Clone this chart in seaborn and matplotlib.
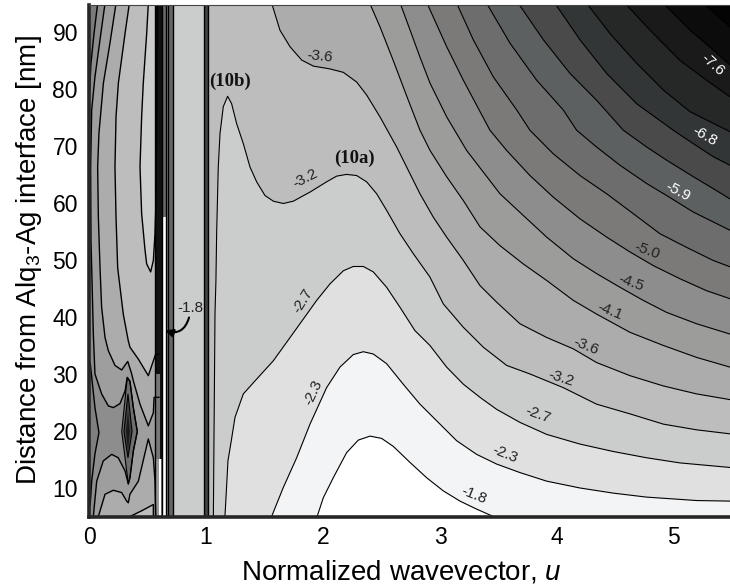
import numpy as np
import matplotlib
matplotlib.use("Agg")
import matplotlib.pyplot as plt
import seaborn as sns

# --- iso-lines of log power: (u, distance in nm) ---
UMAX, DMIN, DMAX = 5.479, 5.0, 94.8

c18_u = [1.95,2.003,2.088,2.202,2.302,2.402,2.501,2.601,2.743,2.886,3.028,3.171,3.313,3.456]
c18_d = [5,8.3,11.8,16.2,18.4,19.1,18.7,17.3,14.5,11.8,9.5,7.7,6.3,5]
c23_u = [1.561,1.661,1.775,1.889,2.031,2.145,2.259,2.345,2.43,2.544,2.686,2.829,2.971,3.142,3.313,3.484,3.684,3.912,4.197,4.481,4.766,5.194,5.479]
c23_d = [5,10.1,15.3,21.2,27.6,31.2,33.4,33.9,33.5,31.8,28.2,24.7,21.8,18.3,15.9,14.2,12.7,11.2,10.0,9.1,8.4,7.8,7.7]
c27_u = [1.162,1.171,1.188,1.214,1.248,1.319,1.433,1.575,1.761,1.946,2.06,2.174,2.259,2.345,2.43,2.544,2.658,2.786,2.914,3.057,3.2,3.342,3.484,3.684,3.912,4.197,4.481,4.766,5.051,5.479]
c27_d = [5,8.3,14.8,18,22.4,26.5,29.1,32.3,37.6,42.9,45.8,48.1,48.85,48.85,47.9,45.2,41.7,37.6,35,31.2,28.2,25.9,23.8,21.5,19.4,17.7,16.4,15.3,14.4,13.6]
c32_u = [1.063,1.077,1.085,1.091,1.105,1.12,1.148,1.185,1.219,1.262,1.319,1.376,1.433,1.504,1.576,1.661,1.746,1.889,2.031,2.117,2.202,2.288,2.373,2.459,2.544,2.658,2.772,2.914,3.028,3.199,3.37,3.57,3.769,4.054,4.339,4.624,4.909,5.194,5.479]
c32_d = [5,40.6,46.4,54.6,66.3,72.2,76.9,78.7,77.4,73.9,70.4,66.3,63.7,61.3,60.3,59.9,60.3,61.9,63.7,64.7,65,64.8,63.7,61.6,58.7,54.6,51.1,47,42.3,38.2,34.7,31.5,30,27.6,24.7,23,21.2,20.2,19.5]
c36_u = [1.562,1.632,1.718,1.818,1.917,2.06,2.174,2.288,2.374,2.487,2.63,2.715,2.829,2.943,3.057,3.2,3.342,3.484,3.684,3.912,4.14,4.339,4.624,4.909,5.194,5.479]
c36_d = [95,90.3,87.4,85.05,84,83.5,82.9,81.2,78.9,75.1,69.8,66.3,61.6,57.5,54,49.9,45.5,42.6,38.8,36.4,34.4,32,29.7,27.9,26.5,25.5]
c41_u = [2.40,2.487,2.6,2.72,2.829,2.915,3.057,3.2,3.342,3.513,3.712,3.912,4.14,4.339,4.624,4.909,5.194,5.479]
c41_d = [95,90.9,85,78.5,72.75,69.2,64.6,60.4,55.8,52.5,49.3,46.4,42.9,40.5,37.3,35,32.9,31.2]
c45_u = [2.66,2.75,2.83,2.915,3.057,3.228,3.513,3.712,3.912,4.14,4.339,4.539,4.738,4.937,5.194,5.479]
c45_d = [95,90,85.5,81,75.1,69.2,61.6,57.8,54,50.2,47.6,45.2,42.9,40.8,38.8,37]
c50_u = [2.89,3.057,3.2,3.427,3.57,3.769,3.969,4.197,4.425,4.624,4.824,5.051,5.279,5.479]
c50_d = [95,87.4,81.5,72.75,69.2,64.8,61,57.2,54,51.4,49,46.7,44.6,43.2]
c54_u = [3.143,3.285,3.456,3.656,3.769,3.969,4.197,4.425,4.653,4.88,5.108,5.336,5.479]
c54_d = [95,88.6,82.1,76.3,72.75,68.6,64.8,61.6,58.1,54.6,52.2,49.9,48.8]
c59_u = [3.399,3.599,3.827,4.054,4.168,4.339,4.539,4.767,4.937,5.165,5.479]
c59_d = [95,88,81.5,76.3,72.75,69.8,66.6,63.4,61.3,58.4,55.2]
c63_u = [3.67,3.884,4.112,4.339,4.567,4.767,4.937,5.165,5.336,5.479]
c63_d = [95,88.6,82.7,78,72.75,69.8,67.5,64.6,62.5,60.7]
c68_u = [3.983,4.197,4.425,4.681,4.994,5.165,5.336,5.479]
c68_d = [95,88.6,82.7,77.4,72.75,70.4,68.1,66.6]
c72_u = [4.254,4.453,4.681,4.909,5.137,5.479]
c72_d = [95,89.7,84.5,79.8,76,72.5]
c76_u = [4.582,4.795,5.051,5.28,5.479]
c76_d = [95,90.3,85,81.5,78.6]
c80_u = [4.909,5.137,5.336,5.479]
c80_d = [95,90.3,86.8,84.2]
c84_u = [5.251,5.479]
c84_d = [95,90.9]

right_levels = [
    (c84_u,c84_d,"#0c0c0c"),(c80_u,c80_d,"#1a1a1a"),(c76_u,c76_d,"#262828"),
    (c72_u,c72_d,"#333636"),(c68_u,c68_d,"#4a4a4a"),(c63_u,c63_d,"#5c6060"),
    (c59_u,c59_d,"#6d6d6d"),(c54_u,c54_d,"#7b7a78"),(c50_u,c50_d,"#8d8d8d"),
    (c45_u,c45_d,"#9c9c9a"),(c41_u,c41_d,"#acacac"),(c36_u,c36_d,"#bdbdbd"),
    (c32_u,c32_d,"#cbcdcc"),(c27_u,c27_d,"#e0e0e0"),(c23_u,c23_d,"#f3f4f6"),
    (c18_u,c18_d,"#ffffff"),
]

# left-hand region
l1_u = [0.074,0.043,0.017,0.0]
l1_d = [95,89.7,84.5,78]
l2_u = [0.137,0.094,0.051,0.023,0.014,0.017,0.028,0.037,0.051,0.108,0.165,0.208,0.265,0.308,0.327,0.35,0.379,0.413,0.379,0.35,0.336,0.308,0.25,0.194,0.122,0.066,0.037]
l2_d = [95,88.6,82.1,76.3,66.3,53.4,44.6,37.1,30,26.5,24.4,24.1,24.8,27,29.4,28.7,24.1,19.9,16.5,11.8,10.7,13,15.3,15.9,14.75,11.2,5]
l3_u = [0.231,0.179,0.123,0.085,0.074,0.08,0.094,0.108,0.137,0.165,0.222,0.279,0.331,0.365,0.379,0.436,0.507,0.55,0.556,0.6]
l3_d = [95,88,81,72.2,66.3,57.5,48.7,41.7,36.4,34.1,31.5,30.7,32.2,30,28.8,24.7,20.9,23.2,25.9,25.9]
l3b_u = [0.08,0.137,0.208,0.279,0.322,0.336,0.35,0.422,0.507,0.55,0.564,0.57]
l3b_d = [5,8.9,9.6,9.2,7.7,7.4,8.9,11.2,18.6,15.3,11.2,5]
l4_u = [0.345,0.308,0.251,0.231,0.222,0.231,0.245,0.251,0.293,0.336,0.35,0.422,0.507,0.55,0.57,0.6]
l4_d = [95,89.7,81,75.1,66.3,57.5,48.7,47.6,40.5,35.8,34.7,32.6,29.7,32.3,33.5,33.5]
l4b_u = [0.35,0.45,0.55,0.55]
l4b_d = [5,6,7.1,5]
l5_u = [0.507,0.493,0.464,0.45,0.436,0.45,0.479,0.493,0.527,0.55,0.564,0.573,0.585]
l5_d = [95,89.7,81,75.1,66.3,58.1,51.7,49.3,47.9,49.9,54.6,60.5,95]
lens_u = [0.01,0.051,0.085,0.051,0.023,0.01]
lens_d = [32,24.1,19.7,16,11.2,7]
dia1_u = [0.327,0.28,0.336,0.35,0.379,0.413,0.379,0.35]
dia1_d = [29.4,19.9,10.7,11.8,16.5,19.9,24.1,28.7]
dia2_u = [0.333,0.299,0.333,0.368]
dia2_d = [26.5,19.9,15.3,19.9]
dia3_u = [0.333,0.316,0.333,0.35]
dia3_d = [23.5,19.9,16.5,19.9]

# vertical stripes near the guided-mode resonances
band_u0 = [0.56,0.56,0.61,0.56,0.60,0.615,0.625,0.625,0.66,0.675,0.72,0.985]
band_u1 = [0.625,0.61,0.63,0.60,0.615,0.63,0.66,0.66,0.675,0.72,0.985,1.018]
band_d0 = [30,15,15,5,5,5,57.5,5,5,5,5,5]
band_d1 = [95,30,30,15,15,15,95,57.5,95,95,95,95]
band_col = ["#111111","#777777","#111111","#999999","#ffffff","#777777","#6a6a6a","#ffffff","#8a8a8a","#666666","#cbcdcc","#444444"]
band_lines = [0.56,0.625,0.66,0.675,0.72,0.985,1.018]

lab_text = ["-3.6","-3.2","-2.7","-2.3","-1.8","-2.3","-2.7","-3.2","-3.6","-4.1","-4.5","-5.0","-5.9","-6.8","-7.6"]
lab_u = [1.974,1.845,1.825,1.92,3.29,3.557,3.836,4.036,4.25,4.454,4.634,4.768,5.03,5.26,5.33]
lab_d = [85.7,64.2,42.9,26.7,8.7,15.9,22.8,29.2,34.9,41,46,51.7,61.9,71.8,84.3]
lab_rot = [-6,27,58,65,-22,-22,-20,-18,-22,-22,-20,-20,-28,-30,-42]
lab_col = ["#222222"]*12 + ["white"]*3

x_ticks = [0,1,2,3,4,5]
y_ticks = [10,20,30,40,50,60,70,80,90]

sns.set_theme(style="ticks")
plt.rcParams["font.family"] = ["Liberation Sans", "DejaVu Sans"]
plt.rcParams["mathtext.fontset"] = "custom"
plt.rcParams["mathtext.rm"] = "Liberation Sans"
plt.rcParams["mathtext.it"] = "Liberation Sans:italic"

W, H = 730, 587
fig = plt.figure(figsize=(W/100, H/100), dpi=100)
ax = fig.add_axes([89/W, (H-516.5)/H, (W-89)/W, (516.5-4.5)/H])
ax.set_xlim(0, UMAX)
ax.set_ylim(DMIN, DMAX)

def line(u, d, lw=0.8):
    sns.lineplot(x=u, y=d, sort=False, estimator=None, color="black",
                 linewidth=lw, ax=ax, zorder=3, legend=False)

ax.set_facecolor("#040404")
for u, d, col in right_levels:
    # paint the lighter side of each iso-line, from dark to light
    if d[0] <= DMIN:
        xs, ys = list(u) + [u[-1], u[0]], list(d) + [0, 0]
    else:
        xs, ys = list(u) + [UMAX, 0, 0, u[0]], list(d) + [0, 0, 100, 100]
    ax.fill(xs, ys, color=col, lw=0, zorder=1)

# left part
ax.fill_between([0, 0.62], 0, 100, color="#8d8d8d", lw=0, zorder=1.1)
ax.fill(l1_u+[0], l1_d+[95], color="#7b7a78", lw=0, zorder=1.2)
ax.fill(l2_u+[0.62,0.62], l2_d+[5,95], color="#9e9e9e", lw=0, zorder=1.2)
ax.fill(lens_u, lens_d, color="#7f7f7f", lw=0, zorder=1.25)
ax.fill(l3_u+[0.6], l3_d+[95], color="#acacac", lw=0, zorder=1.3)
ax.fill(l3b_u, l3b_d, color="#acacac", lw=0, zorder=1.3)
ax.fill(l4_u+[0.6], l4_d+[95], color="#bdbdbd", lw=0, zorder=1.4)
ax.fill(l4b_u, l4b_d, color="#bdbdbd", lw=0, zorder=1.4)
ax.fill(l5_u, l5_d, color="#cbcdcc", lw=0, zorder=1.5)
ax.fill(dia1_u, dia1_d, color="#6f6f6f", lw=0.8, ec="black", zorder=1.6)
ax.fill(dia2_u, dia2_d, color="#444444", lw=0.8, ec="black", zorder=1.7)
ax.fill(dia3_u, dia3_d, color="#1a1a1a", lw=0, zorder=1.8)

for u0, u1, d0, d1, c in zip(band_u0, band_u1, band_d0, band_d1, band_col):
    ax.fill_between([u0, u1], d0, d1, color=c, lw=0, zorder=2)

for u, d, _ in right_levels:
    line(u, d)
for u, d in [(l1_u,l1_d),(l2_u,l2_d),(l3_u,l3_d),(l3b_u,l3b_d),(l4_u,l4_d),(l4b_u,l4b_d),(l5_u,l5_d),(lens_u,lens_d)]:
    line(u, d, 1.0)
for bu in band_lines:
    ax.axvline(bu, color="black", lw=1.0, zorder=3.2)

for t, u, d, r, c in zip(lab_text, lab_u, lab_d, lab_rot, lab_col):
    ax.text(u, d, t, rotation=r, rotation_mode="anchor", ha="center", va="center",
            color=c, fontsize=11, zorder=5)

ax.text(1.205, 81.4, "(10b)", family="Liberation Serif", weight="bold", fontsize=13.5,
        ha="center", va="center", color="#111111", zorder=5)
ax.text(2.265, 67.9, "(10a)", family="Liberation Serif", weight="bold", fontsize=13.5,
        ha="center", va="center", color="#111111", zorder=5)

ax.text(0.863, 41.5, "-1.8", fontsize=11, color="#222222", ha="center", va="center", zorder=6)
ax.annotate("", xy=(0.65, 37.6), xytext=(0.855, 39.9), zorder=6,
            arrowprops=dict(arrowstyle="-|>", color="black", lw=1.5,
                            connectionstyle="arc3,rad=-0.5", shrinkA=0, shrinkB=0))

ax.set_xticks(x_ticks)
ax.set_yticks(y_ticks)
ax.tick_params(axis="both", direction="in", length=3.5, width=0.7, labelsize=16.5,
               colors="black", top=True, pad=8)
ax.tick_params(axis="x", pad=7)
ax.set_xlabel("Normalized wavevector, $\\mathit{u}$", fontsize=20, labelpad=7, color="black", x=0.488)
ax.set_ylabel("Distance from Alq$_3$-Ag interface [nm]", fontsize=20, labelpad=6, color="black")

ax.spines["right"].set_visible(False)
ax.spines["left"].set_linewidth(2.6)
ax.spines["bottom"].set_linewidth(2.6)
ax.spines["top"].set_linewidth(0.8)
ax.spines["top"].set_color("#444444")
for s in ax.spines.values():
    s.set_zorder(7)

fig.savefig("out.png", dpi=100)
